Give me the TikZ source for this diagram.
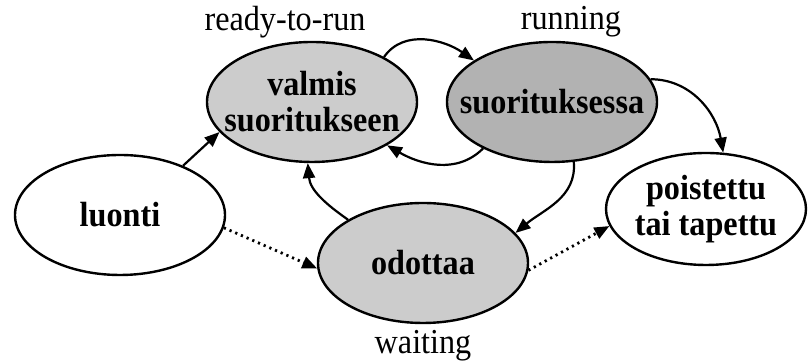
\documentclass[tikz,border=0pt]{standalone}
\usepackage{fontspec}
\setmainfont{Liberation Serif}[FakeStretch=0.92]
\usetikzlibrary{shapes.geometric,arrows.meta}
\begin{document}
\begin{tikzpicture}[x=0.5pt, y=0.5pt,
    tila/.style={draw, ellipse, line width=1.2pt, minimum width=105pt, minimum height=60pt, inner sep=-10pt, align=center, font=\fontsize{17.5}{18}\selectfont\bfseries},
    nuoli/.style={line width=1.1pt, -{Triangle[length=7.5pt,width=6pt]}},
    pisteet/.style={nuoli, dotted, line width=1.4pt},
    selite/.style={font=\fontsize{17.5}{18}\selectfont}]
    \useasboundingbox (0,0) rectangle (809,362);

    \node[tila] (luonti) at (120,147) {luonti};
    \node[tila, fill=black!20] (valmis) at (312,260) {valmis\\suoritukseen};
    \node[tila, fill=black!30] (suor) at (552,260) {suorituksessa};
    \node[tila, fill=black!20] (odottaa) at (423,99) {odottaa};
    \node[tila, minimum width=100pt, minimum height=56pt] (poist) at (706,153) {poistettu\\tai tapettu};

    \node[selite] (ready) at (285,340) {ready-to-run};
    \node[selite] (running) at (571,340) {running};
    \node[selite] (waiting) at (423,16) {waiting};

    \draw[nuoli] (luonti.38) -- (valmis.198);
    \draw[nuoli] (valmis.32) to[out=55, in=145] (suor.152);
    \draw[nuoli] (suor.214) to[out=225, in=-30] (valmis.330);
    \draw[nuoli] (odottaa.150) to[out=145, in=-85] (valmis.266);
    \draw[nuoli] (suor.290) to[out=-85, in=40] (odottaa.18);
    \draw[nuoli] (suor.13) to[out=0, in=100] (poist.73);
    \draw[pisteet] (luonti.-7) -- (odottaa.183);
    \draw[pisteet] (odottaa.-4) -- (poist.190);
\end{tikzpicture}
\end{document}
